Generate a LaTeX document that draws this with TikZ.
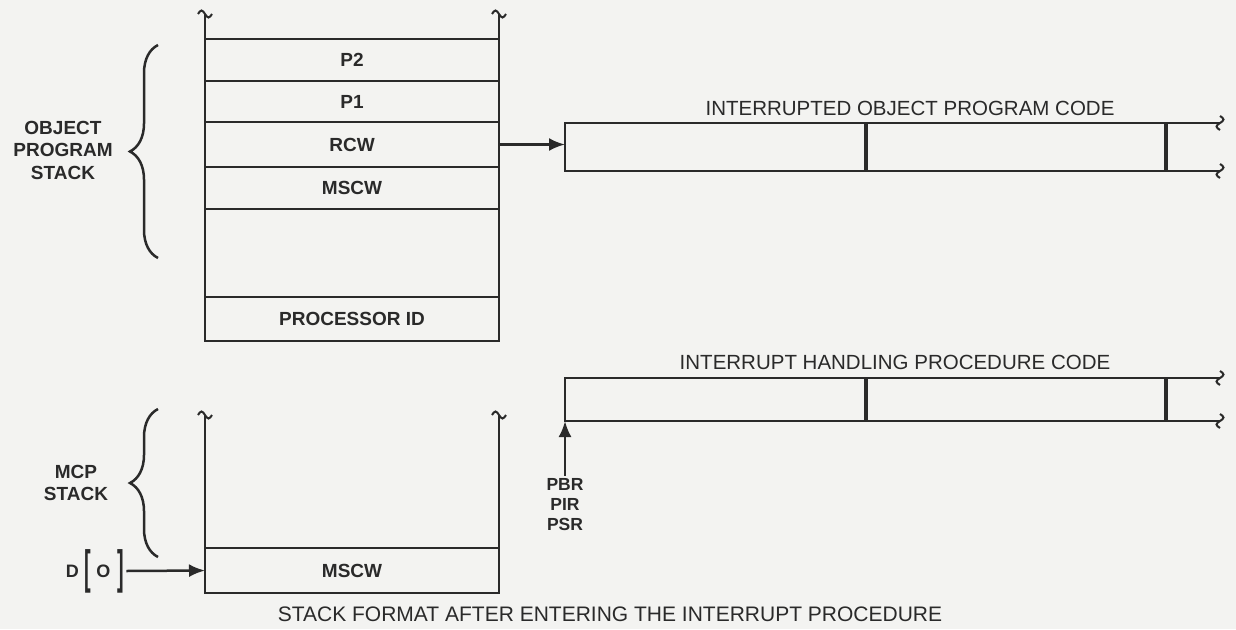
\documentclass[tikz,border=0pt]{standalone}
\usepackage{fontspec}
\usepackage{graphicx}
\setmainfont{Liberation Sans}
\usetikzlibrary{positioning,arrows.meta,decorations.pathreplacing}

\definecolor{ink}{HTML}{2A2A2A}
\definecolor{paper}{HTML}{F3F3F1}

\newcommand{\boxfont}{\fontsize{19}{22.5}\selectfont\bfseries}
\newcommand{\codefont}{\fontsize{20.5}{24}\selectfont}
\newcommand{\tallbr}[1]{\raisebox{-6pt}{\scalebox{1.1}[2.6]{#1}}}

\tikzset{
  squiggle/.pic={\draw[line width=2pt] (-7,0) sin (-3.5,-3.5) cos (0,0) sin (3.5,3.5) cos (7,0);}
}

\begin{document}
\begin{tikzpicture}[x=1pt,y=-1pt,color=ink,line width=2.5pt,
cell/.style={draw, rectangle, minimum width=294pt, inner sep=0pt, outer sep=0pt, anchor=north, font=\boxfont},
codecell/.style={draw, rectangle, minimum width=301pt, inner sep=0pt, outer sep=0pt, anchor=west},
title/.style={font=\codefont},
side/.style={font=\boxfont, align=center},
ptr/.style={-{Latex[length=16pt,width=13pt]}},
curly/.style={decorate, decoration={brace, amplitude=28pt}}
]
\fill[paper] (0,0) rectangle (1236,629);
\useasboundingbox (0,0) rectangle (1236,629);

% object program stack
\node[cell, minimum height=42pt] (p2) at (352,39) {P2};
\node[cell, minimum height=41pt, below=0pt of p2] (p1) {P1};
\node[cell, minimum height=45pt, below=0pt of p1] (rcw) {RCW};
\node[cell, minimum height=42pt, below=0pt of rcw] (mscw) {MSCW};
\node[cell, minimum height=88pt, below=0pt of mscw] (gap) {};
\node[cell, minimum height=44pt, below=0pt of gap] (procid) {PROCESSOR ID};
\coordinate (utl) at (205,14);
\coordinate (utr) at (499,14);
\draw (utl) -- (p2.north west);
\draw (utr) -- (p2.north east);
\pic at (utl) {squiggle};
\pic at (utr) {squiggle};

\draw[curly] (158,258) -- (158,45);
\node[side] (ops) at (63,150) {OBJECT\\PROGRAM\\STACK};

% MCP stack
\node[cell, minimum height=45pt] (mcw) at (352,548) {MSCW};
\coordinate (ltl) at (205,415);
\coordinate (ltr) at (499,415);
\draw (ltl) -- (mcw.north west);
\draw (ltr) -- (mcw.north east);
\pic at (ltl) {squiggle};
\pic at (ltr) {squiggle};

\draw[curly] (158,557) -- (158,409);
\node[side] (mcp) at (76,483) {MCP\\STACK};

\node[font=\fontsize{18}{20}\selectfont\bfseries, inner sep=1pt] (dzero) at (95,571)
  {D\hspace{6pt}\tallbr{[}\hspace{5pt}O\hspace{7pt}\tallbr{]}};
\draw[ptr] (dzero.east) -- (mcw.west);

% interrupted object program code
\node[codecell, minimum height=48pt] (obj1) at (565,147) {};
\node[codecell, minimum height=48pt, minimum width=300pt, right=0pt of obj1] (obj2) {};
\coordinate (otop) at (1220,123);
\coordinate (obot) at (1220,171);
\draw (obj2.north east) -- (otop);
\draw (obj2.south east) -- (obot);
\draw[line width=3.5pt] (obj1.north east) -- (obj1.south east);
\draw[line width=3.5pt] (obj2.north east) -- (obj2.south east);
\pic[rotate=90] at (otop) {squiggle};
\pic[rotate=90] at (obot) {squiggle};
\node[title] (objt) at (910,108) {INTERRUPTED OBJECT PROGRAM CODE};
\draw[ptr] (rcw.east) -- (rcw.east -| obj1.west);

% interrupt handling procedure code
\node[codecell, minimum height=43pt] (ih1) at (565,399.5) {};
\node[codecell, minimum height=43pt, minimum width=300pt, right=0pt of ih1] (ih2) {};
\coordinate (itop) at (1220,378);
\coordinate (ibot) at (1220,421);
\draw (ih2.north east) -- (itop);
\draw (ih2.south east) -- (ibot);
\draw[line width=3.5pt] (ih1.north east) -- (ih1.south east);
\draw[line width=3.5pt] (ih2.north east) -- (ih2.south east);
\pic[rotate=90] at (itop) {squiggle};
\pic[rotate=90] at (ibot) {squiggle};
\node[title] (iht) at (895,362) {INTERRUPT HANDLING PROCEDURE CODE};

\node[font=\fontsize{17.5}{20}\selectfont\bfseries, align=center, inner sep=2pt] (regs) at (565,505) {PBR\\PIR\\PSR};
\draw[ptr] (regs.north) -- (ih1.south west);

\node[font=\fontsize{21}{25}\selectfont] (cap) at (610,614) {STACK FORMAT AFTER ENTERING THE INTERRUPT PROCEDURE};
\end{tikzpicture}
\end{document}
